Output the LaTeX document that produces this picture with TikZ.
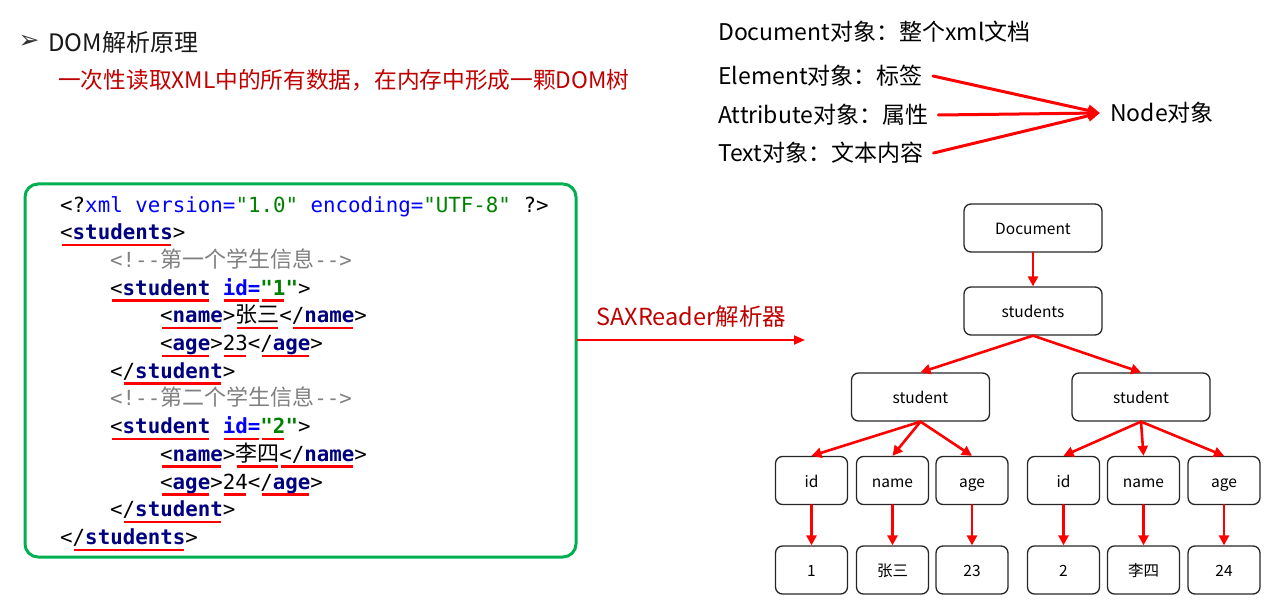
\documentclass[tikz,border=0pt]{standalone}
\usepackage{fontspec}
\setmainfont{Noto Sans CJK SC}
\newfontfamily\codefont{DejaVu Sans Mono}
\newfontfamily\symfont{DejaVu Sans}
\usetikzlibrary{arrows.meta}

\definecolor{codenavy}{RGB}{0,0,128}
\definecolor{codeblue}{RGB}{0,0,255}
\definecolor{codegreen}{RGB}{0,128,0}
\definecolor{codegray}{RGB}{128,128,128}
\definecolor{boxgreen}{RGB}{0,176,80}
\definecolor{darkred}{RGB}{192,0,0}

% red underline below a token
\newcommand\redul[1]{\setbox0\hbox{#1}\rlap{\hspace{1.5pt}\color{red}\rule[-6.5pt]{\dimexpr\wd0-3pt\relax}{2.4pt}}\box0\relax}
\newcommand\tagn[1]{\textbf{\color{codenavy}#1}}
\newcommand\attr[1]{\textbf{\color{codeblue}#1}}
\newcommand\val[1]{\textbf{\color{codegreen}#1}}
\newcommand\cmt[1]{{\color{codegray}#1}}
\newcommand\zh[1]{{\rmfamily\mdseries\fontsize{22}{22}\selectfont #1}}

\begin{document}
\begin{tikzpicture}
		[x=1pt,y=-1pt,line cap=round,
		%Styles
		code/.style={anchor=base west,inner sep=0pt,font=\codefont\fontsize{20.8}{24}\selectfont},
		legend/.style={anchor=west,inner xsep=10pt,inner ysep=2pt,font=\fontsize{23}{23}\selectfont},
		tnode/.style={draw=black!85,line width=1.3pt,rounded corners=7pt,minimum height=48pt,inner sep=0pt,text height=13pt,text depth=0pt,font=\fontsize{15.5}{16}\selectfont},
		bignode/.style={tnode,minimum width=138pt},
		leafnode/.style={tnode,minimum width=72pt},
		tarrow/.style={red,line width=2.6pt,-{Triangle[length=10pt,width=10pt]}},
		larrow/.style={red,line width=3pt,-{Triangle[length=12pt,width=11pt]}}
		]
		\useasboundingbox (0,0) rectangle (1266,604);
		
		%Header
		\node[inner sep=0pt,font=\symfont\fontsize{25}{25}\selectfont,black!80] (bullet) at (29,42) {➢};
		\node[anchor=west,inner sep=0pt,font=\fontsize{24}{24}\selectfont,black!90] (title) at (48,42) {DOM解析原理};
		\node[anchor=west,inner sep=0pt,font=\fontsize{22.7}{23}\selectfont,darkred] (intro) at (58,80) {一次性读取XML中的所有数据，在内存中形成一颗DOM树};
		
		%Object types
		\node[legend] (docobj) at (708,32) {Document对象：整个xml文档};
		\node[legend] (ele) at (708,76) {Element对象：标签};
		\node[legend] (att) at (708,115) {Attribute对象：属性};
		\node[legend] (txt) at (708,153) {Text对象：文本内容};
		\node[anchor=west,inner xsep=10pt,font=\fontsize{23}{23}\selectfont] (nodeobj) at (1100,113) {Node对象};
		\draw[larrow] (ele.east) -- (nodeobj.west);
		\draw[larrow] (att.east) -- (nodeobj.west);
		\draw[larrow] (txt.east) -- (nodeobj.west);
		
		%The xml file
		\node[draw=boxgreen,line width=3pt,rounded corners=13pt,minimum width=551pt,minimum height=373pt] (xmlbox) at (300.5,370.5) {};
		\node[code] (c1) at (60,212) {<?{\color{codeblue}xml version=}{\color{codegreen}"1.0"} {\color{codeblue}encoding=}{\color{codegreen}"UTF-8"} ?>};
		\node[code] (c2) at (60,239.7) {\redul{<\tagn{students}}>};
		\node[code] (c3) at (110,267.4) {\cmt{<!-{}-\zh{第一个学生信息}-{}->}};
		\node[code] (c4) at (110,295.1) {\redul{<\tagn{student}} \redul{\attr{id=}}\redul{\val{"1}}\val{"}>};
		\node[code] (c5) at (160,322.8) {\redul{<\tagn{name}}>\redul{\zh{张三}}<\redul{/\tagn{name}}>};
		\node[code] (c6) at (160,350.5) {\redul{<\tagn{age}}>\redul{23}<\redul{/\tagn{age}}>};
		\node[code] (c7) at (110,378.2) {<\redul{/\tagn{student}}>};
		\node[code] (c8) at (110,405.9) {\cmt{<!-{}-\zh{第二个学生信息}-{}->}};
		\node[code] (c9) at (110,433.6) {\redul{<\tagn{student}} \redul{\attr{id=}}\redul{\val{"2}}\val{"}>};
		\node[code] (c10) at (160,461.3) {\redul{<\tagn{name}}>\redul{\zh{李四}}\redul{</\tagn{name}}>};
		\node[code] (c11) at (160,489) {\redul{<\tagn{age}}>\redul{24}<\redul{/\tagn{age}}>};
		\node[code] (c12) at (110,516.7) {<\redul{/\tagn{student}}>};
		\node[code] (c13) at (60,544.4) {<\redul{/\tagn{students}}>};
		
		%Parser
		\coordinate (treein) at (805,340);
		\draw[red,line width=2pt,-{Triangle[length=11pt,width=9pt]}] ([yshift=30.5pt]xmlbox.east) -- node[above=8pt,font=\fontsize{23.5}{24}\selectfont,darkred] (parser) {SAXReader解析器} (treein);
		
		%The tree
		\node[bignode] (doc) at (1033,228) {Document};
		\node[bignode] (studs) at (1033,311) {students};
		\node[bignode] (stuL) at (920.5,397) {student};
		\node[bignode] (stuR) at (1141,397) {student};
		\draw[tarrow] (doc) -- (studs);
		\draw[tarrow] (studs.south) -- (stuL.north);
		\draw[tarrow] (studs.south) -- (stuR.north);
		\foreach \x/\k/\v [count=\i] in {811.5/id/1,892.5/name/张三,972/age/23,1063.5/id/2,1143.5/name/李四,1224/age/24}
		{
			\node[leafnode] (k\i) at (\x,480.5) {\k};
			\node[leafnode] (v\i) at (\x,570) {\v};
			\draw[tarrow] (k\i) -- (v\i);
		}
		\foreach \i in {1,2,3} \draw[tarrow] (stuL.south) -- (k\i.north);
		\foreach \i in {4,5,6} \draw[tarrow] (stuR.south) -- (k\i.north);
	\end{tikzpicture}
\end{document}
